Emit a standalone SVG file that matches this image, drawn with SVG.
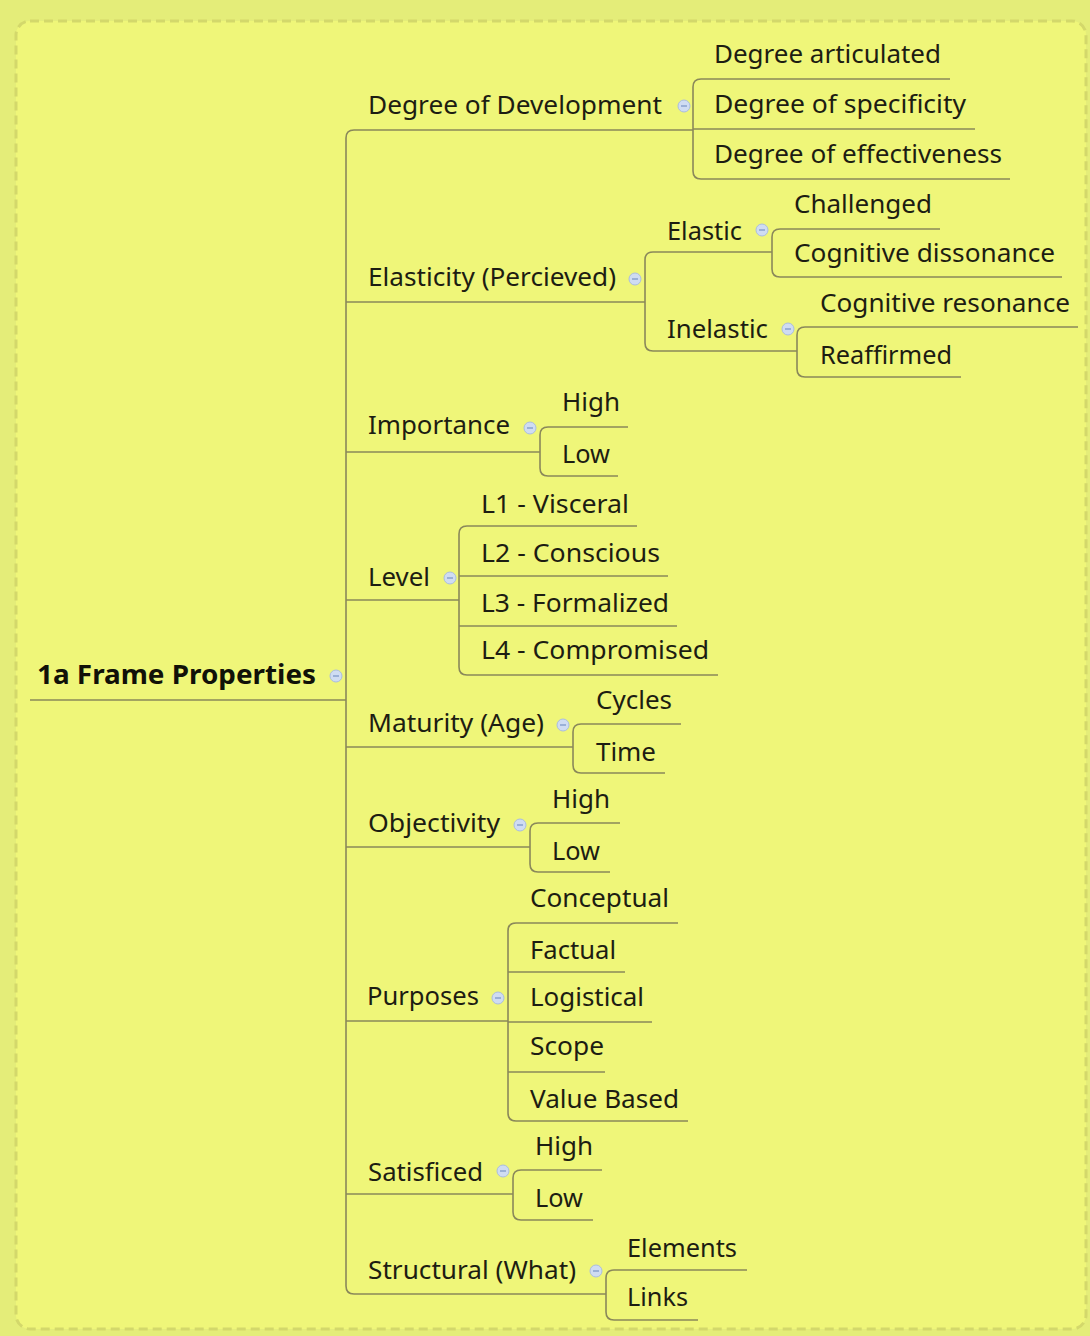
<svg xmlns="http://www.w3.org/2000/svg" width="1090" height="1336" viewBox="0 0 1090 1336">
<defs>
<style>
.t{font-family:"Noto Sans","Liberation Sans",sans-serif;font-size:26px;fill:#1d1d12;}
.r{font-family:"Noto Sans","Liberation Sans",sans-serif;font-size:27px;font-weight:bold;fill:#111108;}
.c path,.c line{fill:none;stroke:#8a885a;stroke-width:1.6;}
.kc{fill:#cfdcf2;stroke:#aabde0;stroke-width:1;}
.kl{stroke:#7d98c8;stroke-width:1.3;}
</style>
<g id="col"><circle class="kc" cx="0" cy="0" r="6"/><line class="kl" x1="-3" y1="0" x2="3" y2="0"/></g>
</defs>
<rect x="0" y="0" width="1090" height="1336" fill="#e4ed79"/>
<rect x="16" y="21" width="1070" height="1308" rx="14" fill="#eff679" stroke="#d3d86b" stroke-width="3" stroke-dasharray="9,5"/>

<g id="connectors" class="c">
<line x1="30" y1="700" x2="346" y2="700"/>
<path d="M693,130 H354 Q346,130 346,138 V1286 Q346,1294 354,1294 H606"/>
<line x1="346" y1="302" x2="645" y2="302"/>
<line x1="346" y1="452" x2="540" y2="452"/>
<line x1="346" y1="600" x2="459" y2="600"/>
<line x1="346" y1="747" x2="573" y2="747"/>
<line x1="346" y1="847" x2="530" y2="847"/>
<line x1="346" y1="1021" x2="508" y2="1021"/>
<line x1="346" y1="1194" x2="513" y2="1194"/>
<path d="M950,79 H701 Q693,79 693,87 V171 Q693,179 701,179 H1010"/>
<line x1="693" y1="129" x2="975" y2="129"/>
<path d="M772,252 H653 Q645,252 645,260 V343 Q645,351 653,351 H797"/>
<path d="M940,229 H780 Q772,229 772,237 V269 Q772,277 780,277 H1062"/>
<path d="M1078,327 H805 Q797,327 797,335 V369 Q797,377 805,377 H961"/>
<path d="M628,427 H548 Q540,427 540,435 V468 Q540,476 548,476 H618"/>
<path d="M637,526 H467 Q459,526 459,534 V667 Q459,675 467,675 H718"/>
<line x1="459" y1="576" x2="668" y2="576"/>
<line x1="459" y1="626" x2="677" y2="626"/>
<path d="M681,724 H581 Q573,724 573,732 V765 Q573,773 581,773 H665"/>
<path d="M620,823 H538 Q530,823 530,831 V864 Q530,872 538,872 H610"/>
<path d="M678,923 H516 Q508,923 508,931 V1113 Q508,1121 516,1121 H688"/>
<line x1="508" y1="972" x2="625" y2="972"/>
<line x1="508" y1="1022" x2="652" y2="1022"/>
<line x1="508" y1="1072" x2="605" y2="1072"/>
<path d="M602,1170 H521 Q513,1170 513,1178 V1212 Q513,1220 521,1220 H593"/>
<path d="M747,1270 H614 Q606,1270 606,1278 V1312 Q606,1320 614,1320 H698"/>
</g>

<g id="collapse-markers">
<use href="#col" x="336" y="676"/>
<use href="#col" x="684" y="106"/>
<use href="#col" x="635" y="279"/>
<use href="#col" x="762" y="230"/>
<use href="#col" x="788" y="329"/>
<use href="#col" x="530" y="428"/>
<use href="#col" x="450" y="578"/>
<use href="#col" x="563" y="725"/>
<use href="#col" x="520" y="825"/>
<use href="#col" x="498" y="998"/>
<use href="#col" x="503" y="1171"/>
<use href="#col" x="596" y="1271"/>
</g>

<g id="root"><text class="r" x="37" y="684" textLength="279" lengthAdjust="spacingAndGlyphs">1a Frame Properties</text></g>

<g id="n-dev"><text class="t" x="368" y="114" textLength="294" lengthAdjust="spacingAndGlyphs">Degree of Development</text></g>
<g id="n-dev-1"><text class="t" x="714" y="63" textLength="227" lengthAdjust="spacingAndGlyphs">Degree articulated</text></g>
<g id="n-dev-2"><text class="t" x="714" y="113" textLength="252" lengthAdjust="spacingAndGlyphs">Degree of specificity</text></g>
<g id="n-dev-3"><text class="t" x="714" y="163" textLength="288" lengthAdjust="spacingAndGlyphs">Degree of effectiveness</text></g>

<g id="n-ela"><text class="t" x="368" y="286" textLength="248" lengthAdjust="spacingAndGlyphs">Elasticity (Percieved)</text></g>
<g id="n-ela-e"><text class="t" x="667" y="240" textLength="75" lengthAdjust="spacingAndGlyphs">Elastic</text></g>
<g id="n-ela-e1"><text class="t" x="794" y="213" textLength="138" lengthAdjust="spacingAndGlyphs">Challenged</text></g>
<g id="n-ela-e2"><text class="t" x="794" y="262" textLength="261" lengthAdjust="spacingAndGlyphs">Cognitive dissonance</text></g>
<g id="n-ela-i"><text class="t" x="667" y="338" textLength="101" lengthAdjust="spacingAndGlyphs">Inelastic</text></g>
<g id="n-ela-i1"><text class="t" x="820" y="312" textLength="250" lengthAdjust="spacingAndGlyphs">Cognitive resonance</text></g>
<g id="n-ela-i2"><text class="t" x="820" y="364" textLength="132" lengthAdjust="spacingAndGlyphs">Reaffirmed</text></g>

<g id="n-imp"><text class="t" x="368" y="434" textLength="142" lengthAdjust="spacingAndGlyphs">Importance</text></g>
<g id="n-imp-1"><text class="t" x="562" y="411" textLength="58" lengthAdjust="spacingAndGlyphs">High</text></g>
<g id="n-imp-2"><text class="t" x="562" y="463" textLength="48" lengthAdjust="spacingAndGlyphs">Low</text></g>

<g id="n-lev"><text class="t" x="368" y="586" textLength="62" lengthAdjust="spacingAndGlyphs">Level</text></g>
<g id="n-lev-1"><text class="t" x="481" y="513" textLength="148" lengthAdjust="spacingAndGlyphs">L1 - Visceral</text></g>
<g id="n-lev-2"><text class="t" x="481" y="562" textLength="179" lengthAdjust="spacingAndGlyphs">L2 - Conscious</text></g>
<g id="n-lev-3"><text class="t" x="481" y="612" textLength="188" lengthAdjust="spacingAndGlyphs">L3 - Formalized</text></g>
<g id="n-lev-4"><text class="t" x="481" y="659" textLength="228" lengthAdjust="spacingAndGlyphs">L4 - Compromised</text></g>

<g id="n-mat"><text class="t" x="368" y="732" textLength="176" lengthAdjust="spacingAndGlyphs">Maturity (Age)</text></g>
<g id="n-mat-1"><text class="t" x="596" y="709" textLength="76" lengthAdjust="spacingAndGlyphs">Cycles</text></g>
<g id="n-mat-2"><text class="t" x="596" y="761" textLength="60" lengthAdjust="spacingAndGlyphs">Time</text></g>

<g id="n-obj"><text class="t" x="368" y="832" textLength="132" lengthAdjust="spacingAndGlyphs">Objectivity</text></g>
<g id="n-obj-1"><text class="t" x="552" y="808" textLength="58" lengthAdjust="spacingAndGlyphs">High</text></g>
<g id="n-obj-2"><text class="t" x="552" y="860" textLength="48" lengthAdjust="spacingAndGlyphs">Low</text></g>

<g id="n-pur"><text class="t" x="367" y="1005" textLength="112" lengthAdjust="spacingAndGlyphs">Purposes</text></g>
<g id="n-pur-1"><text class="t" x="530" y="907" textLength="139" lengthAdjust="spacingAndGlyphs">Conceptual</text></g>
<g id="n-pur-2"><text class="t" x="530" y="959" textLength="86" lengthAdjust="spacingAndGlyphs">Factual</text></g>
<g id="n-pur-3"><text class="t" x="530" y="1006" textLength="114" lengthAdjust="spacingAndGlyphs">Logistical</text></g>
<g id="n-pur-4"><text class="t" x="530" y="1055" textLength="74" lengthAdjust="spacingAndGlyphs">Scope</text></g>
<g id="n-pur-5"><text class="t" x="530" y="1108" textLength="149" lengthAdjust="spacingAndGlyphs">Value Based</text></g>

<g id="n-sat"><text class="t" x="368" y="1181" textLength="115" lengthAdjust="spacingAndGlyphs">Satisficed</text></g>
<g id="n-sat-1"><text class="t" x="535" y="1155" textLength="58" lengthAdjust="spacingAndGlyphs">High</text></g>
<g id="n-sat-2"><text class="t" x="535" y="1207" textLength="48" lengthAdjust="spacingAndGlyphs">Low</text></g>

<g id="n-str"><text class="t" x="368" y="1279" textLength="208" lengthAdjust="spacingAndGlyphs">Structural (What)</text></g>
<g id="n-str-1"><text class="t" x="627" y="1257" textLength="110" lengthAdjust="spacingAndGlyphs">Elements</text></g>
<g id="n-str-2"><text class="t" x="627" y="1306" textLength="61" lengthAdjust="spacingAndGlyphs">Links</text></g>
</svg>
